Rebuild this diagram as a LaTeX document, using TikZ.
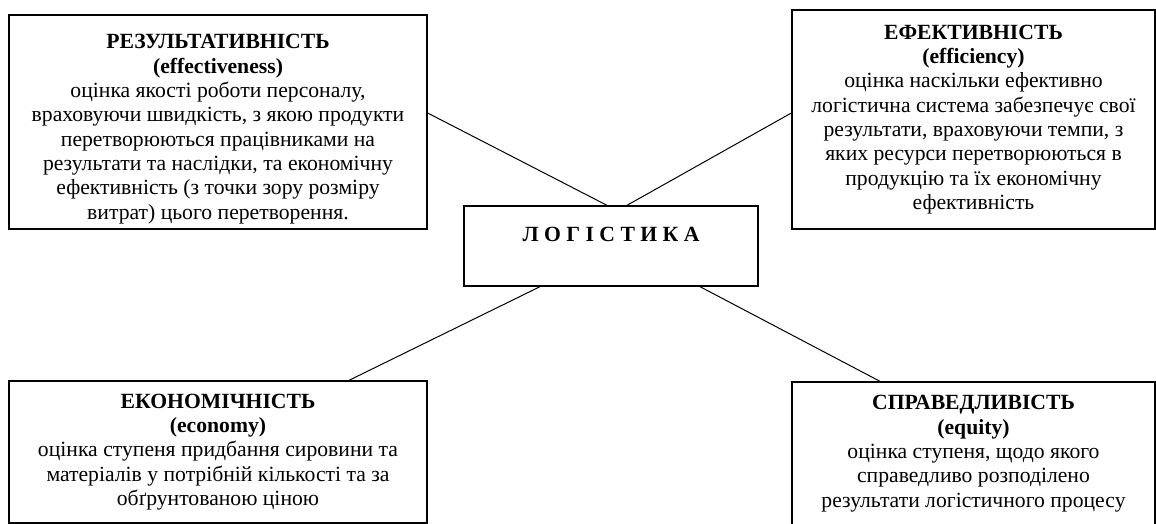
\documentclass[tikz,border=0pt]{standalone}
\usepackage{fontspec}
\setmainfont{Liberation Serif}
\begin{document}
\begin{tikzpicture}[x=0.6pt, y=-0.6pt,
    every node/.style={font=\fontsize{13}{14.6}\selectfont, align=center, inner sep=0pt},
    card/.style={draw, line width=0.8pt},
    link/.style={line width=0.6pt}]
    \useasboundingbox (0,0) rectangle (1156,524) ;
    \node [card, minimum width=250.8pt, minimum height=128.4pt] (result) at (218,122)
        {\rule{0pt}{17pt}\textbf{РЕЗУЛЬТАТИВНІСТЬ}\\ \textbf{(effectiveness)}\\ оцінка якості роботи персоналу,\\ враховуючи швидкість, з якою продукти\\ перетворюються працівниками на\\ результати та наслідки, та економічну\\ ефективність (з точки зору розміру\\ витрат) цього перетворення.} ;
    \node [card, minimum width=217.8pt, minimum height=131.4pt] (effic) at (973.5,119.5)
        {\textbf{ЕФЕКТИВНІСТЬ}\\ \textbf{(efficiency)}\\ оцінка наскільки ефективно\\ логістична система забезпечує свої\\ результати, враховуючи темпи, з\\ яких ресурси перетворюються в\\ продукцію та їх економічну\\ ефективність} ;
    \node [card, minimum width=176.4pt, minimum height=48pt] (logist) at (611,246)
        {\textbf{Л О Г І С Т И К А}\\ ~} ;
    \node [card, minimum width=250.8pt, minimum height=85.2pt] (econ) at (218,452)
        {\textbf{ЕКОНОМІЧНІСТЬ}\\ \textbf{(economy)}\\ оцінка ступеня придбання сировини та\\ матеріалів у потрібній кількості та за\\ обґрунтованою ціною} ;
    \node [card, minimum width=217.8pt, minimum height=85.8pt] (equit) at (973.5,453.5)
        {\textbf{СПРАВЕДЛИВІСТЬ}\\ \textbf{(equity)}\\ оцінка ступеня, щодо якого\\ справедливо розподілено\\ результати логістичного процесу} ;

    \draw [link] ([yshift=5.4pt]result.east) -- ([xshift=-2.4pt]logist.north) ;
    \draw [link] ([xshift=9.6pt]logist.north) -- ([yshift=3.9pt]effic.west) ;
    \draw [link] ([xshift=-42.6pt]logist.south) -- ([xshift=78.6pt]econ.north) ;
    \draw [link] ([xshift=53.4pt]logist.south) -- ([xshift=-56.1pt]equit.north) ;
\end{tikzpicture}
\end{document}
